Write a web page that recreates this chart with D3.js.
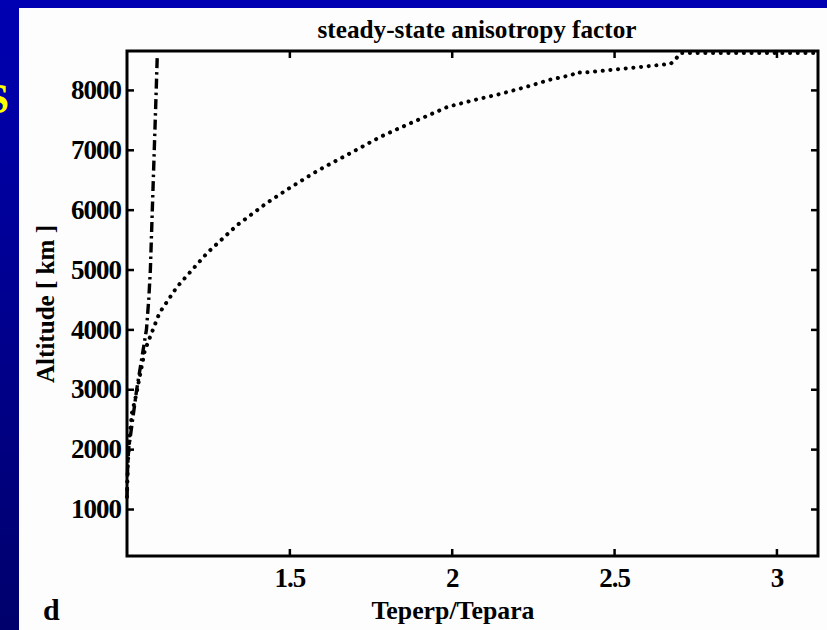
<!DOCTYPE html>
<html>
<head>
<meta charset="utf-8">
<script src="https://cdn.jsdelivr.net/npm/d3@7"></script>
<style>
  html, body { margin: 0; padding: 0; background: #000090; }
  svg { display: block; }
  text { font-family: "Liberation Serif", "Times New Roman", serif; fill: #000; }
</style>
</head>
<body>
<svg id="chart" width="827" height="630"></svg>
<script>
// Anisotropy ratio Teperp/Tepara versus altitude (km)
const xTicks = [1.5, 2, 2.5, 3];
const yTicks = [1000, 2000, 3000, 4000, 5000, 6000, 7000, 8000];

// dotted curve: ratio, altitude
const dottedRatio = [1.000, 1.003, 1.008, 1.015, 1.028, 1.055, 1.100, 1.154, 1.247, 1.340, 1.430,
  1.500, 1.590, 1.690, 1.780, 1.840, 1.987, 2.058, 2.150, 2.240, 2.300, 2.370, 2.385, 2.400,
  2.520, 2.674, 2.690, 2.705, 3.128];
const dottedAlt = [1200, 1800, 2200, 2600, 2900, 3650, 4275, 4710, 5277, 5745, 6110,
  6360, 6660, 6950, 7215, 7365, 7716, 7816, 7933, 8067, 8167, 8250, 8300, 8285,
  8350, 8434, 8518, 8617, 8617];

// dash-dot curve: ratio, altitude
const dashRatio = [1.000, 1.002, 1.005, 1.010, 1.020, 1.030, 1.045, 1.060, 1.067, 1.072, 1.078, 1.084, 1.090, 1.093];
const dashAlt = [1200, 1700, 2000, 2200, 2600, 3000, 3500, 4000, 4500, 5000, 6000, 7000, 8000, 8535];

const svg = d3.select("#chart");
const W = 827, H = 630;

// slide background
const defs = svg.append("defs");
const grad = defs.append("linearGradient").attr("id", "bg").attr("x1", 0).attr("y1", 0).attr("x2", 0).attr("y2", 1);
grad.append("stop").attr("offset", "0%").attr("stop-color", "#0000b2");
grad.append("stop").attr("offset", "100%").attr("stop-color", "#00006c");
svg.append("rect").attr("width", W).attr("height", H).attr("fill", "url(#bg)");

svg.append("text").attr("x", 9).attr("y", 113).attr("text-anchor", "end")
  .style("font-size", "42px").style("font-weight", "bold").style("fill", "#ffff00").text("S");

// white figure panel
svg.append("rect").attr("x", 19).attr("y", 8).attr("width", W - 19).attr("height", H - 8).attr("fill", "#fdfdfd");

const plotL = 127, plotR = 818, plotT = 51, plotB = 556;
const x = d3.scaleLinear().domain([1, 3.128]).range([plotL, plotR]);
const y = d3.scaleLinear().domain([215, 8650]).range([plotB, plotT]);

const tickLen = 7;
const gx = svg.append("g").attr("transform", `translate(0,${plotB})`)
  .call(d3.axisBottom(x).tickValues(xTicks).tickFormat(d3.format("")).tickSizeInner(-tickLen).tickSizeOuter(0).tickPadding(12));
const gy = svg.append("g").attr("transform", `translate(${plotL},0)`)
  .call(d3.axisLeft(y).tickValues(yTicks).tickFormat(d3.format("d")).tickSizeInner(-tickLen).tickSizeOuter(0).tickPadding(6));
const gt = svg.append("g").attr("transform", `translate(0,${plotT})`)
  .call(d3.axisTop(x).tickValues(xTicks).tickFormat("").tickSizeInner(-tickLen).tickSizeOuter(0));
const gr = svg.append("g").attr("transform", `translate(${plotR},0)`)
  .call(d3.axisRight(y).tickValues(yTicks).tickFormat("").tickSizeInner(-tickLen).tickSizeOuter(0));

[gx, gy, gt, gr].forEach(g => {
  g.select(".domain").remove();
  g.selectAll(".tick line").attr("stroke", "#000").attr("stroke-width", 2.5);
  g.selectAll(".tick text").style("font-size", "27px").style("font-weight", "bold")
    .style("font-family", "'Liberation Serif', serif").attr("fill", "#000").style("letter-spacing", "-1px");
});

// plot frame
svg.append("rect").attr("x", plotL).attr("y", plotT).attr("width", plotR - plotL).attr("height", plotB - plotT)
  .attr("fill", "none").attr("stroke", "#000").attr("stroke-width", 3);

const line = d3.line().x(d => x(d[0])).y(d => y(d[1]));

svg.append("path")
  .datum(dashRatio.map((r, i) => [r, dashAlt[i]]))
  .attr("d", line).attr("fill", "none").attr("stroke", "#000")
  .attr("stroke-width", 3.4).attr("stroke-dasharray", "10,4,2.5,4");

svg.append("path")
  .datum(dottedRatio.map((r, i) => [r, dottedAlt[i]]))
  .attr("d", line).attr("fill", "none").attr("stroke", "#000")
  .attr("stroke-width", 4).attr("stroke-linecap", "round").attr("stroke-dasharray", "0.1,7.6");

// titles and labels
svg.append("text").attr("x", 477).attr("y", 38).attr("text-anchor", "middle")
  .attr("textLength", 319).attr("lengthAdjust", "spacingAndGlyphs")
  .style("font-size", "25px").style("font-weight", "bold").text("steady-state anisotropy factor");

svg.append("text").attr("x", 453).attr("y", 619).attr("text-anchor", "middle")
  .attr("textLength", 163).attr("lengthAdjust", "spacingAndGlyphs")
  .style("font-size", "26px").style("font-weight", "bold").text("Teperp/Tepara");

svg.append("text").attr("transform", "translate(54,304) rotate(-90)").attr("text-anchor", "middle")
  .attr("textLength", 158).attr("lengthAdjust", "spacingAndGlyphs")
  .style("font-size", "25px").style("font-weight", "bold").text("Altitude [ km ]");

svg.append("text").attr("x", 43).attr("y", 620)
  .style("font-size", "30px").style("font-weight", "bold").text("d");
</script>
</body>
</html>
